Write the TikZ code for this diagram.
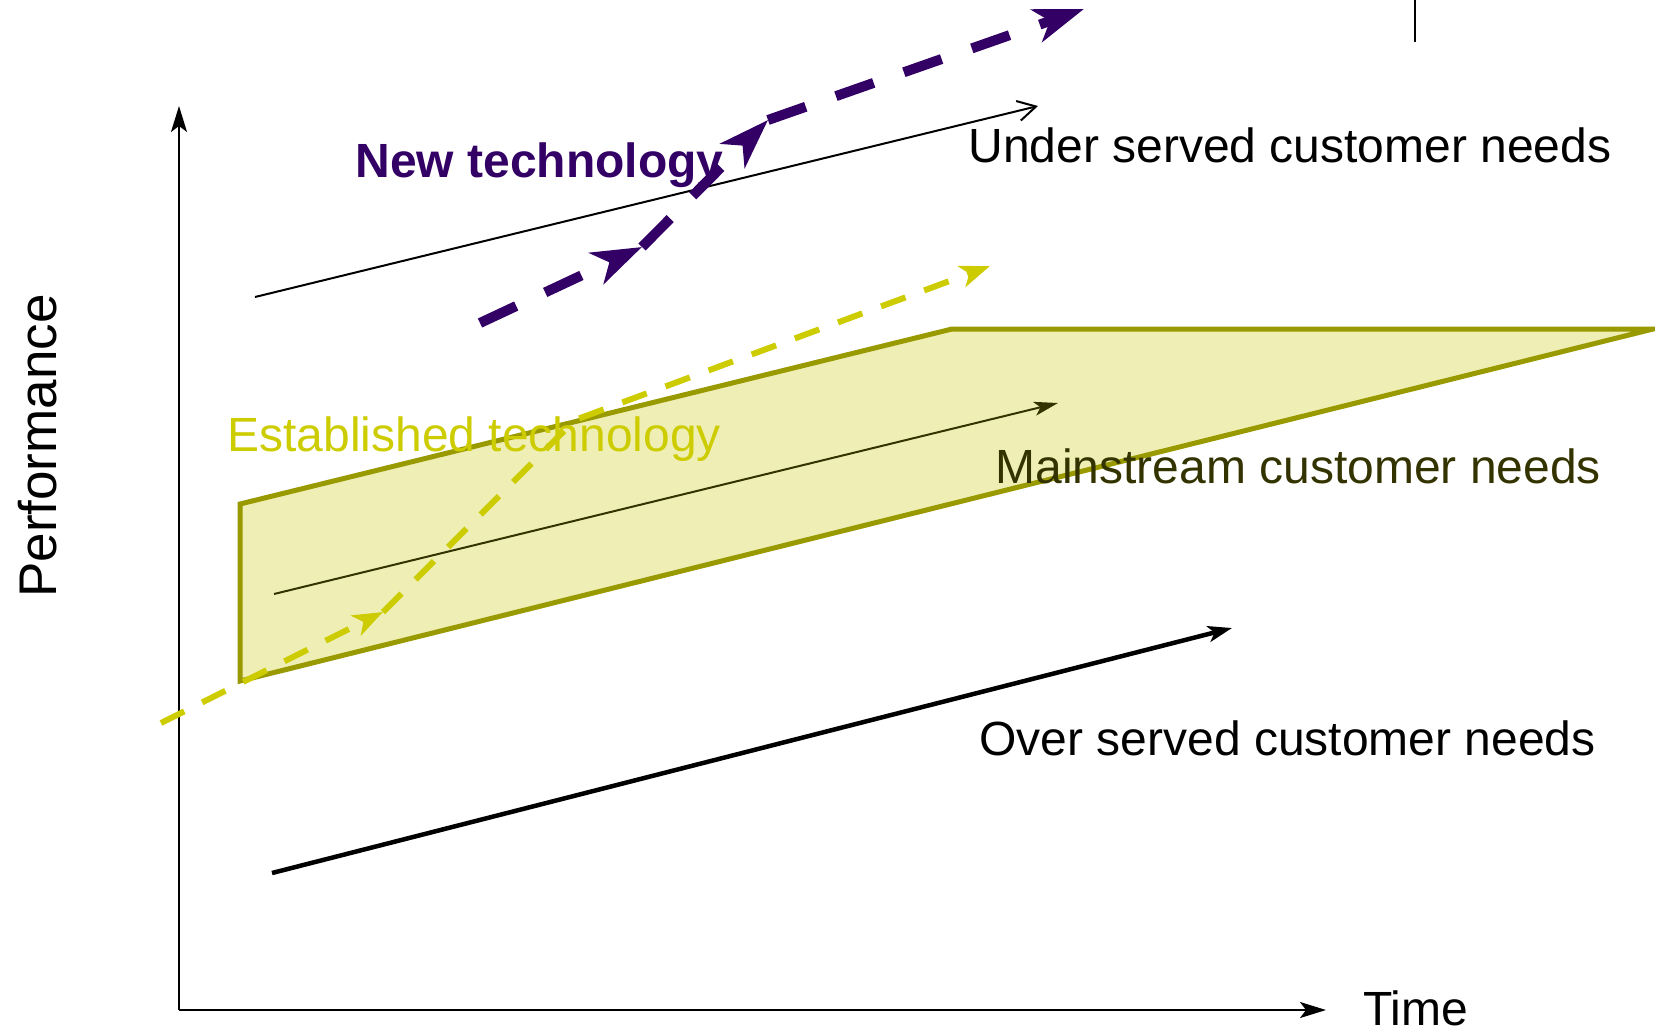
\documentclass[tikz,border=0pt]{standalone}
\usepackage{fontspec}
\setmainfont{Liberation Sans}
\usepackage{tikz}
\usetikzlibrary{arrows.meta}
\definecolor{newtech}{HTML}{330066}
\definecolor{oldtech}{HTML}{CCCC00}
\definecolor{bandfill}{HTML}{EFEFB5}
\definecolor{bandline}{HTML}{999900}
\definecolor{mainneed}{HTML}{333300}
\tikzstyle{txt} = [inner sep=0, font=\fontsize{24}{28}\selectfont]
\tikzstyle{axis} = [line width=1pt, -{Stealth[length=13pt, width=8pt, inset=3pt]}]
\tikzstyle{need} = [line width=1pt, -{Straight Barb[length=9pt, width=10pt]}]
\tikzstyle{band} = [fill=bandfill, draw=bandline, line width=2.5pt]
\tikzstyle{oldpath} = [oldtech, line width=3pt, dash pattern=on 13pt off 10pt,
                       -{Stealth[length=15pt, width=11pt, inset=4pt]}]
\tikzstyle{newpath} = [newtech, line width=5pt, dash pattern=on 20pt off 16pt,
                       -{Stealth[length=25pt, width=17pt, inset=7pt]}]

\begin{document}
\begin{tikzpicture}[x=0.5pt, y=-0.5pt]
				\useasboundingbox (0, 0) rectangle (1655, 1029);

				% axes
				\coordinate (Origin) at (179, 1010);
				\coordinate (YTop) at (179, 106);
				\coordinate (XEnd) at (1326, 1010);
				\draw [axis] (Origin) -- (YTop);
				\draw [axis] (Origin) -- (XEnd);
				\node (Perf) [txt, font=\fontsize{26.5}{30}\selectfont, rotate=90, anchor=base] at (56, 446) {Performance};
				\node (Time) [txt, anchor=base west] at (1363, 1025) {Time};

				\coordinate (TickTop) at (1415, 0);
				\coordinate (TickBot) at (1415, 42);
				\draw [line width=1pt] (TickTop) -- (TickBot);

				% mainstream band
				\coordinate (BandA) at (240, 504);
				\coordinate (BandB) at (952, 329);
				\coordinate (BandC) at (1653, 329);
				\coordinate (BandD) at (240, 681);
				\draw [band] (BandA) -- (BandB) -- (BandC) -- (BandD) -- cycle;

				% customer needs
				\coordinate (UnderIn) at (255, 297);
				\coordinate (UnderOut) at (1038, 106);
				\draw [need] (UnderIn) -- (UnderOut);
				\node (Under) [txt, anchor=base west] at (968, 162) {Under served customer needs};

				\coordinate (MainIn) at (274, 594);
				\coordinate (MainOut) at (1058, 403);
				\draw [mainneed, line width=1pt, -{Stealth[length=12pt, width=7pt, inset=3pt]}] (MainIn) -- (MainOut);
				\node (Main) [txt, mainneed, anchor=base west] at (995, 483) {Mainstream customer needs};

				\coordinate (OverIn) at (272, 873);
				\coordinate (OverOut) at (1232, 628);
				\draw [line width=2.25pt, -{Stealth[length=12pt, width=8pt, inset=3pt]}] (OverIn) -- (OverOut);
				\node (Over) [txt, anchor=base west] at (979, 755) {Over served customer needs};

				% established technology
				\node (Old) [txt, oldtech, anchor=base west] at (227, 451) {Established technology};
				\coordinate (OldIn) at (161, 723);
				\coordinate (OldKnee) at (383, 612);
				\coordinate (OldBend) at (575, 420);
				\coordinate (OldOut) at (990, 266);
				\draw [oldpath] (OldIn) -- (OldKnee);
				\draw [oldpath] (OldKnee) -- (OldBend) -- (OldOut);

				% new technology
				\node (New) [txt, newtech, font=\fontsize{24}{28}\selectfont\bfseries, anchor=base west] at (355, 177) {New technology};
				\coordinate (NewIn) at (480, 323);
				\coordinate (NewKnee) at (642, 247);
				\coordinate (NewBend) at (768, 120);
				\coordinate (NewOut) at (1084, 9);
				\draw [newpath] (NewIn) -- (NewKnee);
				\draw [newpath] (NewKnee) -- (NewBend);
				\draw [newpath] (NewBend) -- (NewOut);
\end{tikzpicture}
\end{document}
